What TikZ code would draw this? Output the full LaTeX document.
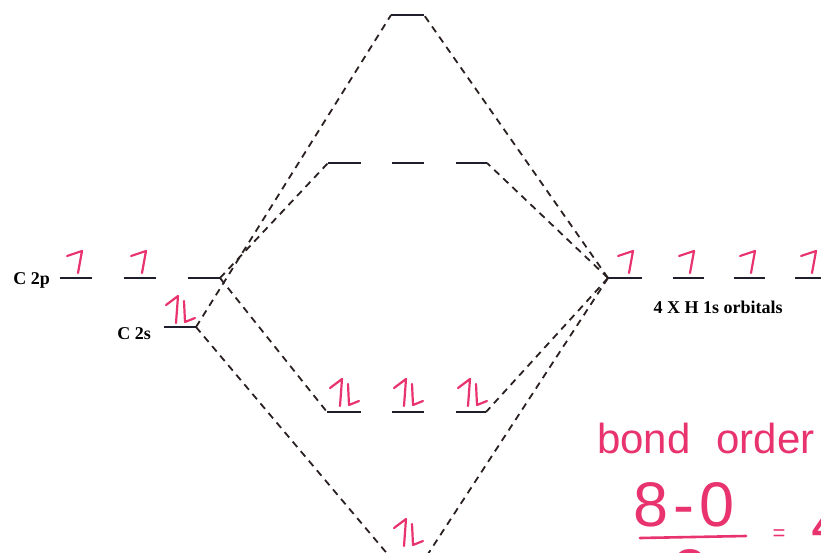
\documentclass[tikz,border=0pt]{standalone}
\usepackage{fontspec}
\setmainfont{Liberation Serif}
\newfontfamily\handfont{Liberation Sans}
\definecolor{levc}{HTML}{1E1E2C}
\definecolor{dashc}{HTML}{2A2020}
\definecolor{inkpink}{HTML}{E8336E}
\tikzset{
  levline/.style={draw=levc, line width=1.7pt},
  conn/.style={draw=dashc, line width=1.8pt, dash pattern=on 7pt off 5.5pt},
  elec/.style={draw=inkpink, line width=2.2pt, line cap=round, line join=round},
  lbl/.style={inner sep=0pt, font=\bfseries\fontsize{18}{20}\selectfont, text=black},
  hand/.style={inner sep=0pt, text=inkpink},
  eup/.pic={\draw[elec] (-9,-22) -- (6,-27) -- (2,-5);},
  epair/.pic={\draw[elec] (-14,-24) -- (-2,-33) -- (-4,-6);
              \draw[elec] (4,-28) -- (5,-7) -- (15,-11);}
}
\begin{document}
\begin{tikzpicture}[x=1pt,y=-1pt]
\useasboundingbox (0,0) rectangle (821,553);
\fill[white] (0,0) rectangle (821,553);

% carbon levels
\coordinate (p1L) at (60,278);  \coordinate (p1R) at (92,278);
\coordinate (p2L) at (124,278); \coordinate (p2R) at (156,278);
\coordinate (p3L) at (188,278); \coordinate (p3R) at (220,278);
\coordinate (sL) at (164,327);  \coordinate (sR) at (196,327);
% molecular levels
\coordinate (topL) at (391,15); \coordinate (topR) at (424,15);
\coordinate (u1L) at (328,163); \coordinate (u1R) at (361,163);
\coordinate (u2L) at (392,163); \coordinate (u2R) at (424,163);
\coordinate (u3L) at (456,163); \coordinate (u3R) at (487,163);
\coordinate (b1L) at (327,412); \coordinate (b1R) at (361,412);
\coordinate (b2L) at (392,412); \coordinate (b2R) at (424,412);
\coordinate (b3L) at (456,412); \coordinate (b3R) at (486,412);
\coordinate (aL) at (390,557);  \coordinate (aR) at (426,557);
% hydrogen levels
\coordinate (h1L) at (608,278); \coordinate (h1R) at (642,278);
\coordinate (h2L) at (673,278); \coordinate (h2R) at (704,278);
\coordinate (h3L) at (734,278); \coordinate (h3R) at (765,278);
\coordinate (h4L) at (795,278); \coordinate (h4R) at (828,278);

\foreach \a/\b in {p1L/p1R,p2L/p2R,p3L/p3R,sL/sR,topL/topR,u1L/u1R,u2L/u2R,u3L/u3R,
                   b1L/b1R,b2L/b2R,b3L/b3R,aL/aR,h1L/h1R,h2L/h2R,h3L/h3R,h4L/h4R}
  \draw[levline] (\a) -- (\b);

% correlation lines
\draw[conn] (sR) -- (topL);
\draw[conn] (sR) -- (aL);
\draw[conn] (p3R) -- (u1L);
\draw[conn] (p3R) -- (b1L);
\draw[conn] (h1L) -- (topR);
\draw[conn] (h1L) -- (u3R);
\draw[conn] (h1L) -- (b3R);
\draw[conn] (h1L) -- (aR);

% labels
\node[lbl, anchor=base east] (c2plab) at (50,284) {C 2p};
\node[lbl, anchor=base east] (c2slab) at (151,339) {C 2s};
\node[lbl, anchor=base] (hlab) at (718,313) {4 X H 1s orbitals};

% electrons
\pic at (76,278) {eup};
\pic at (140,278) {eup};
\pic at (180,329) {epair};
\pic at (627,278) {eup};
\pic at (688,278) {eup};
\pic at (749,278) {eup};
\pic at (810,278) {eup};
\pic at (344,412) {epair};
\pic at (408,412) {epair};
\pic at (472,412) {epair};
\pic at (408,552) {epair};

% bond order note
\node[hand, anchor=base west, font=\handfont\fontsize{42}{46}\selectfont] (bo) at (597,453) {bond\hspace{26pt}order};
\node[hand, anchor=base west, font=\handfont\fontsize{63}{70}\selectfont] (num) at (633,526) {8\kern5pt-\kern5pt0};
\draw[elec, line width=2.6pt] (640,538) -- (746,536);
\node[hand, font=\handfont\fontsize{22}{24}\selectfont] (eq) at (779,535) {=};
\node[hand, anchor=base west, font=\handfont\fontsize{63}{70}\selectfont] (four) at (811,545) {4};
\node[hand, anchor=north, font=\handfont\fontsize{63}{70}\selectfont] (den) at (690,549) {2};
\end{tikzpicture}
\end{document}
